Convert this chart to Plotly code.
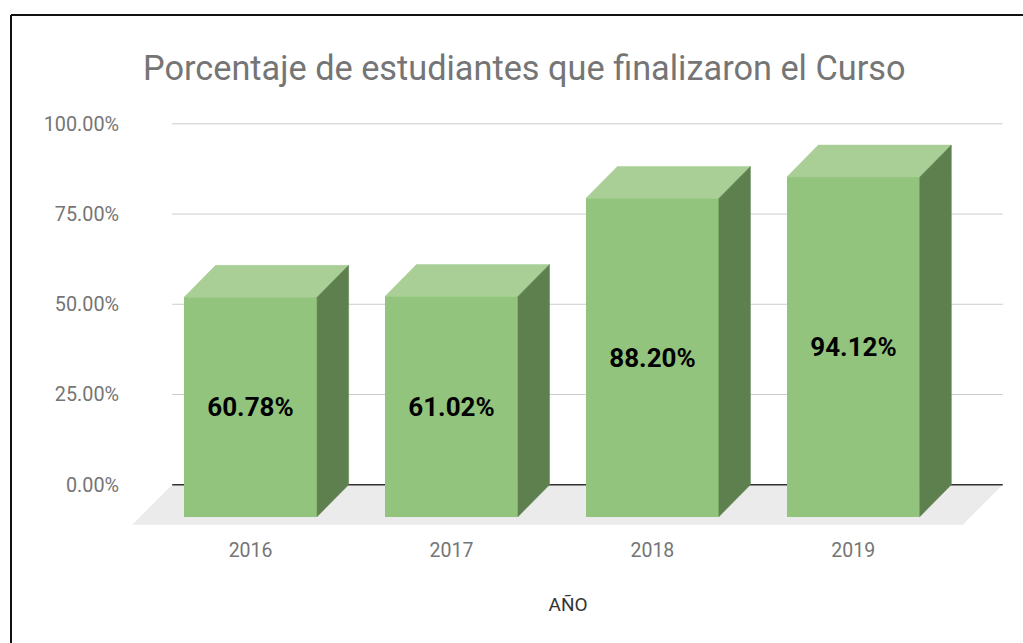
import plotly.graph_objects as go

# ---- data ----
years = ["2016", "2017", "2018", "2019"]
values = [60.78, 61.02, 88.20, 94.12]
y_tick_vals = [0, 25, 50, 75, 100]
y_tick_text = ["0.00%", "25.00%", "50.00%", "75.00%", "100.00%"]

# ---- style / geometry constants ----
FRONT = "#93c47d"
TOP = "#a9cf96"
SIDE = "#5e804f"
FLOOR = "#ebebeb"
GRID = "#cccccc"
ZERO = "#333333"
TXT = "#757575"

HW = 0.331      # half width of front face (category units)
DX = 0.157      # depth offset in x (category units)
DY = 8.86       # depth offset in y (percent units)
FLOOR_DX = 0.199
FLOOR_DY = 11.1
WALL_L = -0.39
WALL_R = 3.744

W, H = 1023, 643
ML, MR, MT, MB = 126, 13, 113, 115
XR = [-0.62, 3.78]
YR = [-12, 103]

xs = list(range(len(years)))

fig = go.Figure()

# front faces
fig.add_trace(go.Bar(
    x=xs, y=values, base=[-DY] * len(values), width=2 * HW,
    marker=dict(color=FRONT, line=dict(width=0)),
    text=[f"{v:.2f}%" for v in values],
    textposition="inside", insidetextanchor="middle", textangle=0,
    textfont=dict(family="Roboto", size=26, color="#000000", weight="bold"),
    hoverinfo="skip", showlegend=False,
))

# top and side faces
for i, v in zip(xs, values):
    fig.add_trace(go.Scatter(
        x=[i - HW, i + HW, i + HW + DX, i - HW + DX, i - HW],
        y=[v - DY, v - DY, v, v, v - DY],
        fill="toself", fillcolor=TOP, mode="lines",
        line=dict(width=0.5, color=TOP), hoverinfo="skip", showlegend=False,
    ))
    fig.add_trace(go.Scatter(
        x=[i + HW, i + HW + DX, i + HW + DX, i + HW, i + HW],
        y=[-DY, 0, v, v - DY, -DY],
        fill="toself", fillcolor=SIDE, mode="lines",
        line=dict(width=0.5, color=SIDE), hoverinfo="skip", showlegend=False,
    ))

shapes = []
# floor
shapes.append(dict(
    type="path", xref="x", yref="y", layer="below",
    path=(f"M {WALL_L},0 L {WALL_R},0 L {WALL_R - FLOOR_DX},{-FLOOR_DY} "
          f"L {WALL_L - FLOOR_DX},{-FLOOR_DY} Z"),
    fillcolor=FLOOR, line=dict(width=0),
))
# gridlines
for tv in y_tick_vals:
    shapes.append(dict(
        type="line", xref="x", yref="y", layer="below",
        x0=WALL_L, x1=WALL_R, y0=tv, y1=tv,
        line=dict(color=ZERO if tv == 0 else GRID, width=1.5 if tv == 0 else 1),
    ))

# frame border (top and left)
pw = W - ML - MR
ph = H - MT - MB
def px(xp):
    return (xp - ML) / pw
def py(yp):
    return (H - MB - yp) / ph
shapes.append(dict(type="line", xref="paper", yref="paper",
                   x0=px(11), x1=px(1030), y0=py(15), y1=py(15),
                   line=dict(color="#111111", width=2)))
shapes.append(dict(type="line", xref="paper", yref="paper",
                   x0=px(11), x1=px(11), y0=py(15), y1=py(650),
                   line=dict(color="#111111", width=2)))

fig.update_layout(
    width=W, height=H,
    margin=dict(l=ML, r=MR, t=MT, b=MB),
    paper_bgcolor="white", plot_bgcolor="white",
    shapes=shapes,
    bargap=0,
    title=dict(text="Porcentaje de estudiantes que finalizaron el Curso",
               x=143 / W, xanchor="left", xref="container",
               y=1 - 68 / H, yanchor="middle", yref="container",
               font=dict(family="Roboto", size=34.3, color=TXT)),
    xaxis=dict(range=XR, tickvals=xs, ticktext=years, showgrid=False,
               zeroline=False, showline=False, ticks="",
               tickfont=dict(family="Roboto", size=19.5, color=TXT),
               ticklabelstandoff=8,
               title=dict(text="AÑO", standoff=37,
                          font=dict(family="Roboto", size=19, color="#333333"))),
    yaxis=dict(range=YR, tickvals=y_tick_vals, ticktext=y_tick_text,
               showgrid=False, zeroline=False, showline=False, ticks="",
               tickfont=dict(family="Roboto", size=19.8, color=TXT),
               ticklabelstandoff=6),
)

fig.write_html("out.html", config={"displayModeBar": False},
               post_script="document.body.style.margin='0';")
